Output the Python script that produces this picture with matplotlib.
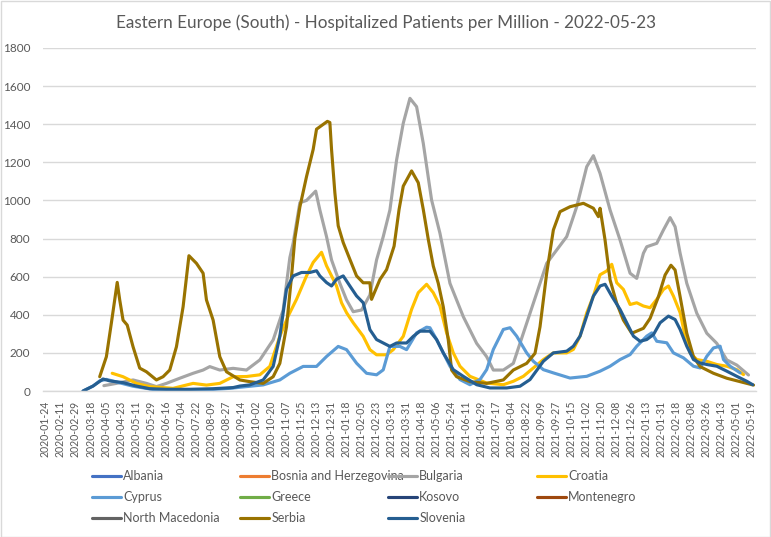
import matplotlib
matplotlib.use("Agg")
import matplotlib.pyplot as plt
from matplotlib.patches import Rectangle
import pandas as pd

plt.rcParams['font.family'] = ['Lato', 'DejaVu Sans']

title = "Eastern Europe (South) - Hospitalized Patients per Million - 2022-05-23"

countries = ["Albania", "Bosnia and Herzegovina", "Bulgaria", "Croatia", "Cyprus", "Greece",
             "Kosovo", "Montenegro", "North Macedonia", "Serbia", "Slovenia"]
colors = ["#4472C4", "#ED7D31", "#A5A5A5", "#FFC000", "#5B9BD5", "#70AD47",
          "#264478", "#9E480E", "#636363", "#997300", "#255E91"]

tick_labels = ["2020-01-24", "2020-02-11", "2020-02-29", "2020-03-18", "2020-04-05", "2020-04-23",
               "2020-05-11", "2020-05-29", "2020-06-16", "2020-07-04", "2020-07-22", "2020-08-09",
               "2020-08-27", "2020-09-14", "2020-10-02", "2020-10-20", "2020-11-07", "2020-11-25",
               "2020-12-13", "2020-12-31", "2021-01-18", "2021-02-05", "2021-02-23", "2021-03-13",
               "2021-03-31", "2021-04-18", "2021-05-06", "2021-05-24", "2021-06-11", "2021-06-29",
               "2021-07-17", "2021-08-04", "2021-08-22", "2021-09-09", "2021-09-27", "2021-10-15",
               "2021-11-02", "2021-11-20", "2021-12-08", "2021-12-26", "2022-01-13", "2022-01-31",
               "2022-02-18", "2022-03-08", "2022-03-26", "2022-04-13", "2022-05-01", "2022-05-19"]

serbia_dates = ["2020-03-29", "2020-04-06", "2020-04-12", "2020-04-19", "2020-04-22", "2020-04-26",
                "2020-05-01", "2020-05-08", "2020-05-16", "2020-05-24", "2020-06-05", "2020-06-13",
                "2020-06-21", "2020-06-29", "2020-07-07", "2020-07-14", "2020-07-23", "2020-07-31",
                "2020-08-04", "2020-08-12", "2020-08-20", "2020-08-28", "2020-09-13", "2020-09-25",
                "2020-10-11", "2020-10-23", "2020-10-31", "2020-11-08", "2020-11-14", "2020-11-18",
                "2020-11-24", "2020-12-02", "2020-12-10", "2020-12-14", "2020-12-27", "2020-12-30",
                "2021-01-01", "2021-01-05", "2021-01-09", "2021-01-15", "2021-01-23", "2021-01-31",
                "2021-02-08", "2021-02-16", "2021-02-18", "2021-02-28", "2021-03-08", "2021-03-17",
                "2021-03-23", "2021-03-28", "2021-04-07", "2021-04-15", "2021-04-21", "2021-04-27",
                "2021-05-03", "2021-05-09", "2021-05-15", "2021-05-21", "2021-05-25", "2021-05-31",
                "2021-06-16", "2021-07-06", "2021-07-26", "2021-08-07", "2021-08-23", "2021-09-02",
                "2021-09-08", "2021-09-16", "2021-09-24", "2021-10-02", "2021-10-14", "2021-10-30",
                "2021-11-11", "2021-11-17", "2021-11-19", "2021-11-25", "2021-12-01", "2021-12-09",
                "2021-12-17", "2021-12-27", "2022-01-10", "2022-01-18", "2022-01-28", "2022-02-05",
                "2022-02-12", "2022-02-17", "2022-02-23", "2022-03-03", "2022-03-11", "2022-03-19",
                "2022-04-04", "2022-04-20", "2022-05-06", "2022-05-22"]
serbia_values = [75, 180, 357, 570, 478, 372,
                 346, 232, 120, 101, 58, 75,
                 110, 232, 442, 710, 670, 618,
                 478, 372, 180, 101, 58, 49,
                 40, 75, 145, 337, 600, 800,
                 965, 1125, 1268, 1374, 1415, 1409,
                 1268, 1040, 867, 779, 691, 604,
                 568, 568, 481, 585, 637, 760,
                 953, 1075, 1155, 1093, 953, 796,
                 656, 565, 442, 268, 110, 75,
                 49, 40, 58, 110, 145, 198,
                 337, 618, 845, 941, 967, 985,
                 959, 915, 959, 792, 583, 460,
                 372, 303, 329, 381, 495, 609,
                 660, 635, 495, 303, 180, 128,
                 93, 67, 49, 31]

bulgaria_dates = ["2020-04-03", "2020-04-18", "2020-05-08", "2020-05-24", "2020-06-05", "2020-06-17",
                  "2020-07-03", "2020-07-19", "2020-07-31", "2020-08-08", "2020-08-20", "2020-09-05",
                  "2020-09-21", "2020-10-07", "2020-10-23", "2020-11-04", "2020-11-12", "2020-11-16",
                  "2020-11-24", "2020-12-02", "2020-12-13", "2020-12-18", "2020-12-26", "2021-01-01",
                  "2021-01-11", "2021-01-19", "2021-01-27", "2021-02-06", "2021-02-16", "2021-02-24",
                  "2021-03-04", "2021-03-12", "2021-03-20", "2021-03-28", "2021-04-05", "2021-04-13",
                  "2021-04-21", "2021-05-01", "2021-05-11", "2021-05-23", "2021-06-08", "2021-06-24",
                  "2021-07-06", "2021-07-14", "2021-07-26", "2021-08-07", "2021-08-19", "2021-09-04",
                  "2021-09-16", "2021-09-28", "2021-10-10", "2021-10-22", "2021-11-03", "2021-11-11",
                  "2021-11-19", "2021-12-01", "2021-12-13", "2021-12-25", "2022-01-02", "2022-01-10",
                  "2022-01-14", "2022-01-26", "2022-02-03", "2022-02-11", "2022-02-17", "2022-02-23",
                  "2022-03-03", "2022-03-15", "2022-03-27", "2022-04-08", "2022-04-20", "2022-05-02",
                  "2022-05-16"]
bulgaria_values = [28, 40, 58, 40, 23, 40,
                   67, 93, 110, 128, 110, 119,
                   110, 163, 268, 425, 700, 777,
                   988, 1000, 1049, 950, 810, 688,
                   565, 478, 416, 425, 504, 688,
                   810, 950, 1212, 1405, 1536, 1492,
                   1300, 1002, 828, 565, 390, 250,
                   180, 110, 110, 145, 303, 513,
                   670, 740, 810, 967, 1177, 1235,
                   1142, 950, 792, 618, 591, 723,
                   757, 775, 845, 910, 862, 723,
                   565, 408, 303, 250, 163, 136,
                   84]

croatia_dates = ["2020-04-13", "2020-04-26", "2020-05-12", "2020-05-28", "2020-06-25", "2020-07-19",
                 "2020-08-04", "2020-08-20", "2020-09-05", "2020-09-21", "2020-10-07", "2020-10-19",
                 "2020-10-31", "2020-11-10", "2020-11-20", "2020-12-02", "2020-12-10", "2020-12-20",
                 "2020-12-26", "2021-01-01", "2021-01-07", "2021-01-13", "2021-01-19", "2021-01-27",
                 "2021-02-08", "2021-02-16", "2021-02-24", "2021-03-08", "2021-03-16", "2021-03-28",
                 "2021-04-07", "2021-04-15", "2021-04-25", "2021-05-03", "2021-05-11", "2021-05-19",
                 "2021-05-27", "2021-06-04", "2021-06-16", "2021-07-06", "2021-07-26", "2021-08-07",
                 "2021-08-19", "2021-08-31", "2021-09-12", "2021-09-24", "2021-10-10", "2021-10-18",
                 "2021-10-26", "2021-11-03", "2021-11-11", "2021-11-19", "2021-11-27", "2021-12-03",
                 "2021-12-09", "2021-12-17", "2021-12-25", "2022-01-02", "2022-01-10", "2022-01-18",
                 "2022-01-26", "2022-02-03", "2022-02-09", "2022-02-15", "2022-02-23", "2022-03-01",
                 "2022-03-07", "2022-03-15", "2022-03-27", "2022-04-08", "2022-04-20", "2022-05-02",
                 "2022-05-10"]
croatia_values = [93, 75, 40, 23, 14, 40,
                  31, 40, 75, 76, 85, 129,
                  287, 393, 481, 604, 675, 728,
                  657, 604, 551, 463, 411, 358,
                  287, 217, 190, 190, 217, 287,
                  428, 516, 560, 516, 446, 305,
                  200, 130, 77, 42, 33, 51,
                  77, 121, 165, 200, 200, 218,
                  288, 410, 498, 610, 630, 665,
                  568, 533, 454, 463, 446, 437,
                  481, 533, 551, 498, 411, 288,
                  200, 165, 156, 139, 130, 112,
                  86]

cyprus_dates = ["2020-03-09", "2020-03-21", "2020-03-29", "2020-04-06", "2020-04-20", "2020-05-08",
                "2020-06-01", "2020-07-01", "2020-08-01", "2020-09-01", "2020-10-11", "2020-10-31",
                "2020-11-12", "2020-11-28", "2020-12-14", "2020-12-26", "2021-01-09", "2021-01-19",
                "2021-01-31", "2021-02-12", "2021-02-24", "2021-03-04", "2021-03-12", "2021-03-24",
                "2021-04-01", "2021-04-13", "2021-04-25", "2021-04-29", "2021-05-07", "2021-05-15",
                "2021-05-23", "2021-06-04", "2021-06-16", "2021-06-28", "2021-07-06", "2021-07-14",
                "2021-07-26", "2021-08-03", "2021-08-11", "2021-08-23", "2021-08-31", "2021-09-12",
                "2021-09-24", "2021-10-14", "2021-11-03", "2021-11-19", "2021-12-01", "2021-12-13",
                "2021-12-25", "2022-01-02", "2022-01-14", "2022-01-20", "2022-01-26", "2022-02-07",
                "2022-02-15", "2022-02-27", "2022-03-11", "2022-03-19", "2022-03-27", "2022-04-04",
                "2022-04-12", "2022-04-16", "2022-04-24", "2022-05-06"]
cyprus_values = [0, 26, 53, 61, 45, 25,
                 8, 4, 5, 14, 32, 58,
                 93, 129, 129, 181, 234, 217,
                 146, 93, 85, 111, 234, 234,
                 217, 305, 335, 332, 270, 200,
                 130, 60, 33, 60, 112, 218,
                 323, 332, 288, 200, 156, 112,
                 95, 68, 77, 104, 130, 165,
                 191, 235, 288, 305, 261, 253,
                 200, 174, 130, 121, 182, 226,
                 235, 165, 130, 95]

slovenia_dates = ["2020-03-09", "2020-03-21", "2020-04-02", "2020-04-10", "2020-04-26", "2020-05-12",
                  "2020-05-28", "2020-06-17", "2020-07-15", "2020-08-12", "2020-09-05", "2020-09-13",
                  "2020-09-25", "2020-10-11", "2020-10-23", "2020-10-31", "2020-11-08", "2020-11-16",
                  "2020-11-26", "2020-12-06", "2020-12-14", "2020-12-18", "2020-12-26", "2021-01-01",
                  "2021-01-07", "2021-01-15", "2021-01-23", "2021-01-31", "2021-02-08", "2021-02-16",
                  "2021-02-24", "2021-03-04", "2021-03-12", "2021-03-20", "2021-04-01", "2021-04-09",
                  "2021-04-17", "2021-04-29", "2021-05-07", "2021-05-15", "2021-05-27", "2021-06-08",
                  "2021-06-24", "2021-07-10", "2021-07-30", "2021-08-15", "2021-08-27", "2021-09-12",
                  "2021-09-24", "2021-10-10", "2021-10-18", "2021-10-26", "2021-11-03", "2021-11-11",
                  "2021-11-19", "2021-11-25", "2021-12-03", "2021-12-13", "2021-12-21", "2021-12-29",
                  "2022-01-06", "2022-01-14", "2022-01-22", "2022-01-30", "2022-02-09", "2022-02-17",
                  "2022-02-23", "2022-03-03", "2022-03-11", "2022-03-19", "2022-03-27", "2022-04-08",
                  "2022-04-20", "2022-05-02", "2022-05-14", "2022-05-21"]
slovenia_values = [0, 26, 63, 53, 44, 26,
                   12, 9, 9, 12, 18, 26,
                   32, 58, 129, 287, 534, 604,
                   622, 622, 631, 604, 569, 551,
                   587, 604, 551, 499, 463, 322,
                   270, 252, 234, 252, 252, 287,
                   314, 314, 270, 200, 112, 77,
                   33, 16, 16, 25, 60, 156,
                   200, 209, 235, 288, 393, 498,
                   551, 560, 498, 428, 358, 288,
                   261, 270, 296, 358, 393, 375,
                   323, 235, 165, 147, 139, 130,
                   104, 77, 51, 33]

series = {
    "Albania": ([], []),
    "Bosnia and Herzegovina": ([], []),
    "Bulgaria": (bulgaria_dates, bulgaria_values),
    "Croatia": (croatia_dates, croatia_values),
    "Cyprus": (cyprus_dates, cyprus_values),
    "Greece": ([], []),
    "Kosovo": ([], []),
    "Montenegro": ([], []),
    "North Macedonia": ([], []),
    "Serbia": (serbia_dates, serbia_values),
    "Slovenia": (slovenia_dates, slovenia_values),
}

W, H = 771, 537
fig = plt.figure(figsize=(W / 100, H / 100), dpi=100)
ax = fig.add_axes([43 / W, 1 - 391 / H, (756 - 43) / W, (391 - 48) / H])

text_color = "#595959"
grid_color = "#D9D9D9"

handles = {}
for name, col in zip(countries, colors):
    d, v = series[name]
    line, = ax.plot(pd.to_datetime(d), v, color=col, lw=2.25, label=name,
                    solid_joinstyle="round", solid_capstyle="round")
    handles[name] = line

ax.set_ylim(0, 1800)
ax.set_yticks(range(0, 1801, 200))
ax.set_xlim(pd.Timestamp("2020-01-21"), pd.Timestamp("2022-05-25"))
ax.set_xticks(pd.to_datetime(tick_labels))
ax.set_xticklabels(tick_labels, rotation=90)
ax.grid(axis="y", color=grid_color, lw=1)
ax.set_axisbelow(True)
for s in ["top", "right", "left"]:
    ax.spines[s].set_visible(False)
ax.spines["bottom"].set_color(grid_color)
ax.spines["bottom"].set_linewidth(1)
ax.tick_params(axis="both", length=0, colors=text_color)
ax.tick_params(axis="x", pad=7, labelsize=7.6)
ax.tick_params(axis="y", pad=9, labelsize=8.5)

fig.text(0.5, 1 - 23 / H, title, ha="center", va="center", fontsize=12.3, color=text_color)

# legend: 4 columns laid out row-wise, like the original
col_x = [92, 240, 388, 537]
ncols = 4
for c in range(ncols):
    names = countries[c::ncols]
    fig.legend([handles[n] for n in names], names, loc="upper left",
               bbox_to_anchor=(col_x[c] / W, 1 - 470 / H), frameon=False,
               fontsize=9, handlelength=2.3, handletextpad=0.2,
               labelspacing=0.72, borderpad=0, borderaxespad=0, labelcolor=text_color)

fig.add_artist(Rectangle((0.5 / W, 0.5 / H), 1 - 1.5 / W, 1 - 1.5 / H, transform=fig.transFigure,
                         fill=False, edgecolor=grid_color, lw=1))

fig.savefig("out.png", dpi=100)
